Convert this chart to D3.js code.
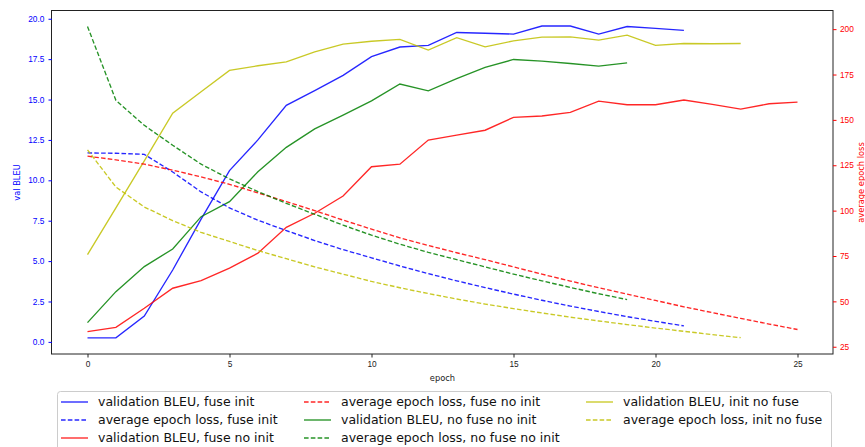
<!DOCTYPE html>
<html>
<head>
<meta charset="utf-8">
<script src="https://cdn.jsdelivr.net/npm/d3@7"></script>
<style>
  body { margin: 0; background: #fff; }
  svg { display: block; font-family: "DejaVu Sans", sans-serif; }
</style>
</head>
<body>
<svg width="865" height="447"></svg>
<script>
// values (epoch = array index)
var bleuFuseInit = [0.25, 0.25, 1.6, 4.45, 7.6, 10.6, 12.5, 14.64, 15.55, 16.5, 17.65, 18.25, 18.35, 19.15, 19.1, 19.05, 19.55, 19.55, 19.05, 19.52, 19.4, 19.28];
var lossFuseInit = [131.8, 131.6, 131.0, 121.3, 110.3, 101.5, 94.7, 89.0, 83.5, 78.5, 74.0, 69.5, 65.3, 61.3, 57.6, 54.0, 50.6, 47.4, 44.4, 41.6, 39.0, 36.5];
var bleuFuseNoInit = [0.64, 0.9, 2.08, 3.32, 3.79, 4.56, 5.49, 7.09, 7.96, 9.03, 10.84, 11.0, 12.49, 12.8, 13.1, 13.9, 13.98, 14.2, 14.9, 14.68, 14.68, 14.97, 14.7, 14.41, 14.74, 14.84];
var lossFuseNoInit = [130, 128, 125.6, 122.3, 118.6, 114.5, 109.8, 105, 100, 94.8, 89.8, 85, 80.8, 76.8, 73, 69, 65, 61.2, 57.5, 54, 50.5, 47, 43.8, 40.6, 37.5, 34.5];
var bleuNoFuseNoInit = [1.19, 3.11, 4.66, 5.75, 7.75, 8.68, 10.53, 12.04, 13.18, 14.04, 14.92, 15.96, 15.54, 16.3, 16.99, 17.48, 17.38, 17.23, 17.07, 17.27];
var lossNoFuseNoInit = [201.5, 160.8, 147, 136, 125.6, 117.5, 110.5, 104, 98, 92, 86.5, 81.5, 77, 73, 69, 65, 61.3, 57.7, 54.2, 51];
var bleuInitNoFuse = [5.4, 8.3, 11.2, 14.15, 15.48, 16.8, 17.09, 17.33, 17.95, 18.43, 18.61, 18.72, 18.06, 18.83, 18.26, 18.63, 18.86, 18.88, 18.68, 18.99, 18.35, 18.47, 18.45, 18.47];
var lossInitNoFuse = [133.5, 113, 102, 94.5, 88, 83, 78, 73.5, 69, 65, 61, 57.5, 54.3, 51.3, 48.5, 46, 43.6, 41.3, 39.2, 37.2, 35.3, 33.5, 31.7, 30];

var xTicks = [0, 5, 10, 15, 20, 25];
var leftTicks = [0, 2.5, 5, 7.5, 10, 12.5, 15, 17.5, 20];
var rightTicks = [25, 50, 75, 100, 125, 150, 175, 200];

var series = [
    {name: "validation BLEU, fuse init", data: bleuFuseInit, color: "#0000ff", axis: "left"},
    {name: "average epoch loss, fuse init", data: lossFuseInit, color: "#0000ff", axis: "right"},
    {name: "validation BLEU, fuse no init", data: bleuFuseNoInit, color: "#ff0000", axis: "left"},
    {name: "average epoch loss, fuse no init", data: lossFuseNoInit, color: "#ff0000", axis: "right"},
    {name: "validation BLEU, no fuse no init", data: bleuNoFuseNoInit, color: "#008000", axis: "left"},
    {name: "average epoch loss, no fuse no init", data: lossNoFuseNoInit, color: "#008000", axis: "right"},
    {name: "validation BLEU, init no fuse", data: bleuInitNoFuse, color: "#bfbf00", axis: "left"},
    {name: "average epoch loss, init no fuse", data: lossInitNoFuse, color: "#bfbf00", axis: "right"}
];

var svg = d3.select("svg");
var plotL = 52, plotR = 833, plotT = 11, plotB = 354;
var fs = "8.3px";
var dash = "4.6,2.2";

var x = d3.scaleLinear().domain([-1.25, 26.25]).range([plotL, plotR]);
var yL = d3.scaleLinear().domain([-0.75, 20.48]).range([plotB, plotT]);
var yR = d3.scaleLinear().domain([21, 210]).range([plotB, plotT]);

// lines: solid BLEU first, dashed loss (twin axis) on top
var lineL = d3.line().x(function(d, i){ return x(i); }).y(function(d){ return yL(d); });
var lineR = d3.line().x(function(d, i){ return x(i); }).y(function(d){ return yR(d); });

svg.append("g").selectAll("path")
    .data(series.filter(function(s){ return s.axis == "left"; }))
    .enter().append("path")
    .attr("d", function(s){ return lineL(s.data); })
    .attr("fill", "none")
    .attr("stroke", function(s){ return s.color; })
    .attr("stroke-width", 1.35)
    .attr("stroke-opacity", 0.85);

svg.append("g").selectAll("path")
    .data(series.filter(function(s){ return s.axis == "right"; }))
    .enter().append("path")
    .attr("d", function(s){ return lineR(s.data); })
    .attr("fill", "none")
    .attr("stroke", function(s){ return s.color; })
    .attr("stroke-width", 1.35)
    .attr("stroke-opacity", 0.85)
    .attr("stroke-dasharray", dash);

// frame
svg.append("rect")
    .attr("x", plotL - 0.5).attr("y", plotT - 0.5)
    .attr("width", plotR - plotL + 0.5).attr("height", plotB - plotT + 0.5)
    .attr("fill", "none").attr("stroke", "#222").attr("stroke-width", 1);

// axes
var gx = svg.append("g").attr("transform", "translate(0," + plotB + ")")
    .call(d3.axisBottom(x).tickValues(xTicks).tickSize(3.5).tickPadding(3.9));
gx.select(".domain").remove();
gx.selectAll("text").attr("fill", "#222").style("font-size", fs);
gx.selectAll("line").attr("stroke", "#222");

var gl = svg.append("g").attr("transform", "translate(" + plotL + ",0)")
    .call(d3.axisLeft(yL).tickValues(leftTicks).tickFormat(d3.format(".1f")).tickSize(3.5).tickPadding(4.2));
gl.select(".domain").remove();
gl.selectAll("text").attr("fill", "#0000ff").style("font-size", fs);
gl.selectAll("line").attr("stroke", "#0000ff");

var gr = svg.append("g").attr("transform", "translate(" + plotR + ",0)")
    .call(d3.axisRight(yR).tickValues(rightTicks).tickSize(3.5).tickPadding(3.5));
gr.select(".domain").remove();
gr.selectAll("text").attr("fill", "#ff0000").style("font-size", fs);
gr.selectAll("line").attr("stroke", "#ff0000");

// axis titles
svg.append("text").attr("x", (plotL + plotR) / 2).attr("y", 380.5)
    .attr("text-anchor", "middle").style("font-size", fs).attr("fill", "#222")
    .text("epoch");
svg.append("text").attr("transform", "translate(19.5," + (plotT + plotB) / 2 + ") rotate(-90)")
    .attr("text-anchor", "middle").style("font-size", fs).attr("fill", "#0000ff")
    .text("val BLEU");
svg.append("text").attr("transform", "translate(864," + (plotT + plotB) / 2 + ") rotate(-90)")
    .attr("text-anchor", "middle").style("font-size", fs).attr("fill", "#ff0000")
    .text("average epoch loss");

// legend, 3 columns filled column by column
var legend = svg.append("g");
legend.append("rect")
    .attr("x", 57.5).attr("y", 391.5).attr("width", 774).attr("height", 80)
    .attr("rx", 3).attr("fill", "#fff").attr("stroke", "#ccc");

var colX = [61, 304, 586];
var rowY = [402, 420, 438];
var item = legend.selectAll("g.item")
    .data(series)
    .enter().append("g")
    .attr("transform", function(s, i){
        return "translate(" + colX[Math.floor(i / 3)] + "," + rowY[i % 3] + ")";
    });
item.append("line")
    .attr("x1", 0).attr("x2", 27).attr("y1", 0).attr("y2", 0)
    .attr("stroke", function(s){ return s.color; })
    .attr("stroke-width", 1.35)
    .attr("stroke-opacity", 0.85)
    .attr("stroke-dasharray", function(s){ return s.axis == "right" ? dash : null; });
item.append("text")
    .attr("x", 37).attr("dy", "0.35em")
    .style("font-size", "12.5px").attr("fill", "#111")
    .text(function(s){ return s.name; });
</script>
</body>
</html>
